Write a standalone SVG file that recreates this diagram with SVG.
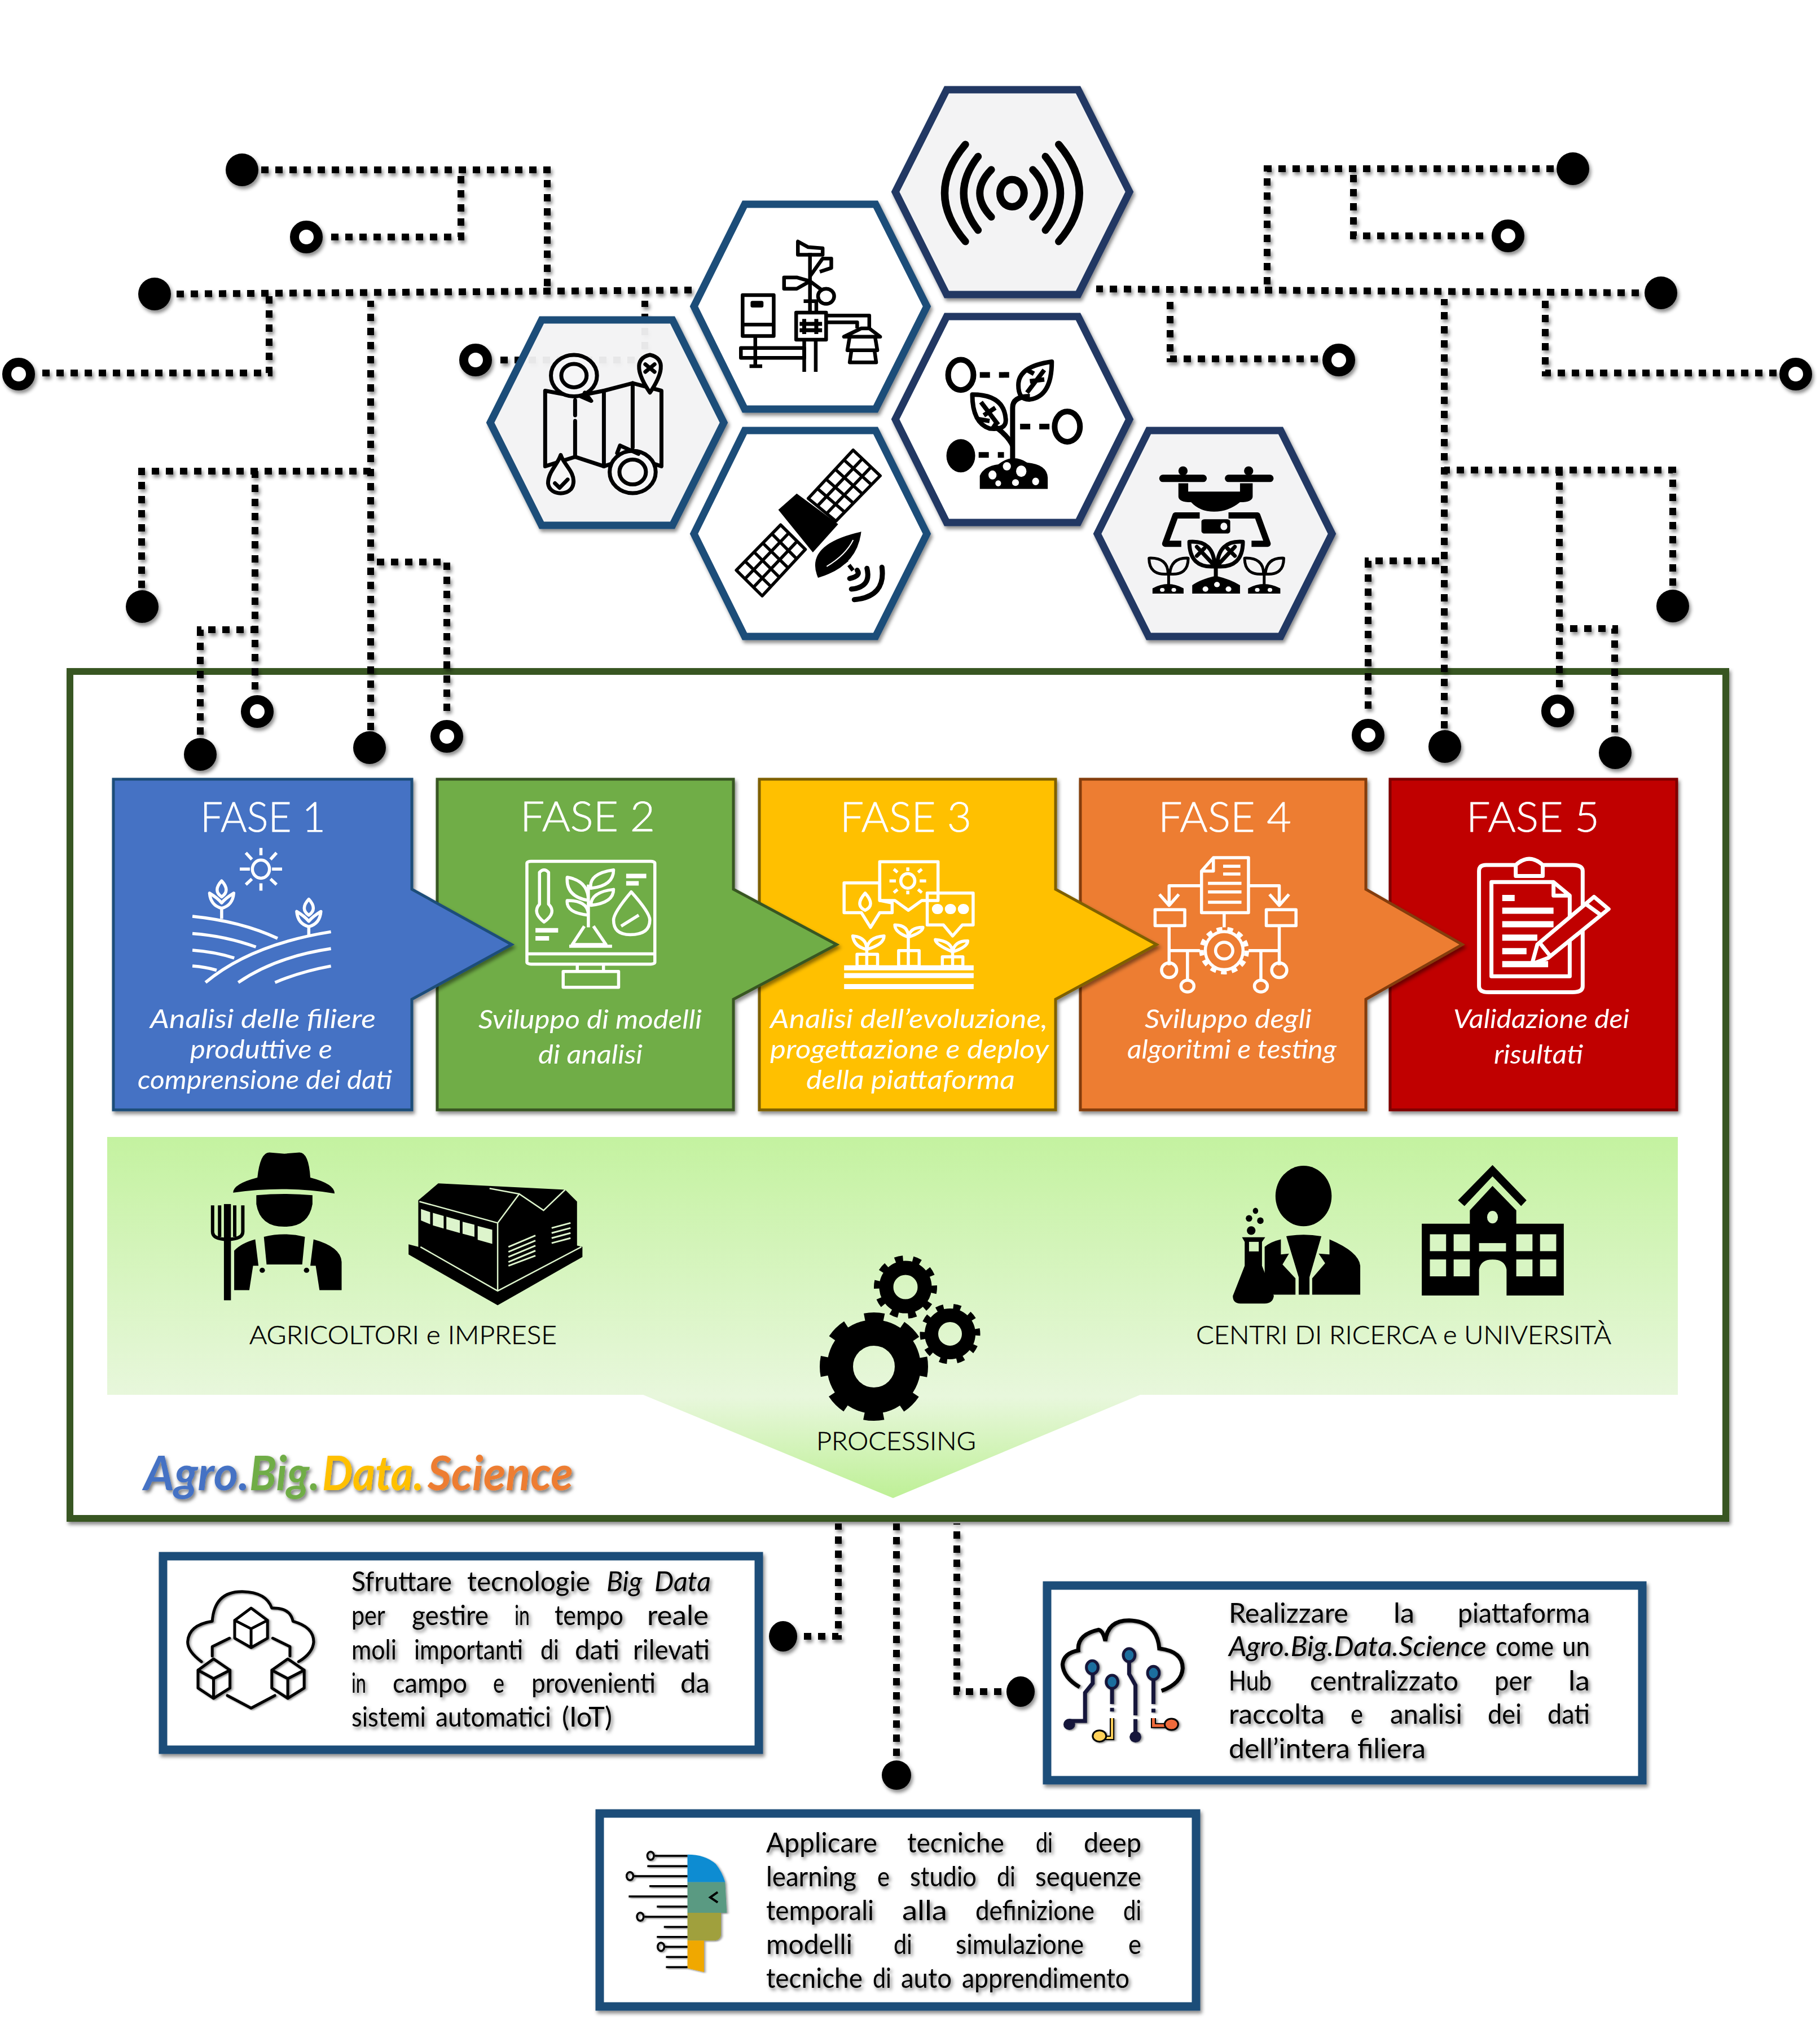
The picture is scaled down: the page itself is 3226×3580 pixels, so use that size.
<svg xmlns="http://www.w3.org/2000/svg" width="3226" height="3580" viewBox="0 0 3226 3580">
<style>
text{font-family:"Lato","Open Sans","Liberation Sans",sans-serif;font-weight:300;fill:#000}
.w{fill:#fff}.ti{font-size:72px;stroke:#fff;stroke-width:.8}.de{font-size:47px;font-style:italic;fill:#fff;font-weight:400}
.bt{font-size:48px;font-weight:400}.lb{font-size:45px;stroke:#000;stroke-width:.6}
.lg{font-size:84px;font-style:italic;font-weight:700}
.dash{fill:none;stroke:#000;stroke-width:12;stroke-dasharray:13 12}
.ring{fill:#fff;stroke:#000;stroke-width:16}
.dot{fill:#000}
.hex{stroke-width:13;stroke-linejoin:miter}
.hb{stroke:#1F4E79}.hn{stroke:#203864}
.fa{fill-opacity:.92;fill:#F6F6F7}.wh{fill:#fff}
.box{fill:#fff;stroke:#1F4E79;stroke-width:15}
.ic *{vector-effect:non-scaling-stroke}
.ln{fill:none;stroke:#000;stroke-width:6;stroke-linecap:round;stroke-linejoin:round}
.wl{fill:none;stroke:#fff;stroke-width:5.5;stroke-linejoin:round}
.fill{fill:#000}
</style>
<defs>
<filter id="sh" x="-10%" y="-10%" width="120%" height="120%"><feDropShadow dx="3" dy="5" stdDeviation="3" flood-color="#000" flood-opacity=".45"/></filter>
<filter id="sh2" x="-10%" y="-20%" width="120%" height="150%"><feDropShadow dx="3" dy="4" stdDeviation="3" flood-color="#000" flood-opacity=".55"/></filter>
<linearGradient id="band" x1="0" y1="2015" x2="0" y2="2655" gradientUnits="userSpaceOnUse">
<stop offset="0" stop-color="#C4F2A0"/><stop offset=".72" stop-color="#E8F7DC"/><stop offset="1" stop-color="#BEF096"/>
</linearGradient>
</defs>
<rect width="3226" height="3580" fill="#fff"/>

<g id="frame"><rect x="124" y="1190" width="2935" height="1501" fill="#fff" stroke="#385723" stroke-width="12" filter="url(#sh)"/></g>
<g id="band-shape"><path d="M190,2015H2974V2472H2021L1583,2655L1140,2472H190Z" fill="url(#band)"/></g>

<g id="connectors" filter="url(#sh)">
<path class="dash" d="M463,301H970V517"/>
<path class="dash" d="M587,420H817V301"/>
<path class="dash" d="M313,521L1227,514"/>
<path class="dash" d="M75,661H477V521"/>
<path class="dash" d="M657,1294V533"/>
<path class="dash" d="M251,1042V835H657"/>
<path class="dash" d="M452,1222V835"/>
<path class="dash" d="M355,1302V1116H452"/>
<path class="dash" d="M792,1260V996H657"/>
<path class="dash" d="M887,638H1143V533"/>
<path class="dash" d="M2754,299H2246V512"/>
<path class="dash" d="M2629,418H2399V299"/>
<path class="dash" d="M2905,519L1943,512"/>
<path class="dash" d="M2336,636H2074V525"/>
<path class="dash" d="M2560,1291V530"/>
<path class="dash" d="M2965,1038V833H2560"/>
<path class="dash" d="M2764,1218V833"/>
<path class="dash" d="M2862,1298V1114H2764"/>
<path class="dash" d="M2425,1256V994H2560"/>
<path class="dash" d="M3149,661H2739V530"/>
<path class="dash" d="M1425,2900H1486V2700"/>
<path class="dash" d="M1589,3112V2700"/>
<path class="dash" d="M1775,2998H1696V2700"/>
<circle class="dot" cx="429" cy="301" r="29"/>
<circle class="ring" cx="543" cy="420" r="21"/>
<circle class="dot" cx="274" cy="521" r="29"/>
<circle class="ring" cx="33" cy="663" r="21"/>
<circle class="dot" cx="252" cy="1075" r="29"/>
<circle class="ring" cx="456" cy="1261" r="21"/>
<circle class="dot" cx="355" cy="1337" r="29"/>
<circle class="dot" cx="655" cy="1325" r="29"/>
<circle class="ring" cx="792" cy="1305" r="21"/>
<circle class="ring" cx="843" cy="638" r="21"/>
<circle class="dot" cx="2788" cy="299" r="29"/>
<circle class="ring" cx="2673" cy="418" r="21"/>
<circle class="dot" cx="2944" cy="519" r="29"/>
<circle class="ring" cx="2373" cy="638" r="21"/>
<circle class="ring" cx="3183" cy="663" r="21"/>
<circle class="dot" cx="2965" cy="1074" r="29"/>
<circle class="ring" cx="2761" cy="1260" r="21"/>
<circle class="dot" cx="2863" cy="1334" r="29"/>
<circle class="ring" cx="2425" cy="1303" r="21"/>
<circle class="dot" cx="2561" cy="1323" r="29"/>
<ellipse class="dot" cx="1388" cy="2900" rx="25" ry="27"/>
<circle class="dot" cx="1589" cy="3146" r="26"/>
<ellipse class="dot" cx="1809" cy="2998" rx="25" ry="27"/>
</g>

<g id="hex-map" filter="url(#sh)"><path class="hex hb fa" d="M869,749L960,567H1192L1283,749L1192,931H960Z"/></g>
<g id="hex-weather" filter="url(#sh)"><path class="hex hb wh" d="M1230,543L1320,362H1552L1643,543L1552,725H1320Z"/></g>
<g id="hex-satellite" filter="url(#sh)"><path class="hex hb wh" d="M1230,946L1320,763H1552L1643,946L1552,1128H1320Z"/></g>
<g id="hex-sensor" filter="url(#sh)"><path class="hex hn fa" d="M1587,340L1678,159H1911L2002,340L1911,522H1678Z"/></g>
<g id="hex-plant" filter="url(#sh)"><path class="hex hn wh" d="M1587,743L1678,561H1911L2002,743L1911,926H1678Z"/></g>
<g id="hex-drone" filter="url(#sh)"><path class="hex hn fa" d="M1945,946L2036,763H2270L2361,946L2270,1128H2036Z"/></g>

<g id="icons-hex" class="ic" transform="translate(800,120) scale(1.0204,0.6696)">
<g class="ln" style="stroke-width:13">
<ellipse cx="974" cy="332" rx="21" ry="36"/>
<path d="M938,270Q898,332 938,395M915,235Q865,332 915,430M893,203Q821,332 893,460M1010,270Q1050,332 1010,395M1032,235Q1084,332 1032,430M1055,203Q1127,332 1055,460"/>
</g>
<g class="ln" style="stroke-width:6.5;stroke-linecap:butt">
<rect x="506" y="602" width="54" height="108"/><path d="M506,680H560M528,710V790M518,790H540"/>
<rect x="523" y="622" width="16" height="8" class="fill"/>
<rect x="503" y="742" width="110" height="26"/>
<rect x="599" y="648" width="52" height="72"/>
<path d="M613,665V705M634,665V705M605,678H644M605,695H644" style="stroke-width:7"/>
<path d="M613,720V805M633,720V805M623,648V490M612,618H634V648"/>
<path d="M602,460V495H645V478L620,475L602,460Z"/>
<path d="M623,552L645,505H660V530L640,540"/><ellipse cx="651" cy="605" rx="14" ry="20"/><path d="M623,565L645,590M623,565L600,555H578V585H600Z"/>
<path d="M651,656H726V690M651,674H705V690"/>
<path d="M712,690L682,712L745,712L726,690ZM692,712L688,748H740L736,712M695,748L692,780H738L735,748"/>
</g>
<g class="ln" style="stroke-width:7">
<path d="M163,855V1055L215,1030L265,1055L315,1030L365,1055V855L315,835L265,855L215,870Z"/>
<path d="M265,855V1055M315,835V1005M215,880V920M215,935V1030"/>
<ellipse cx="213" cy="815" rx="40" ry="55" fill="#F6F6F7"/><ellipse cx="213" cy="815" rx="22" ry="31"/><path d="M232,860L243,882L225,870"/>
<ellipse cx="315" cy="1070" rx="40" ry="56" fill="#F6F6F7"/><ellipse cx="315" cy="1070" rx="23" ry="33"/><path d="M288,1020L293,1000L325,1022"/>
<path d="M345,760C315,770 325,815 345,860C365,815 375,770 345,760Z" fill="#F6F6F7"/><path d="M337,785L353,805M353,785L337,805"/>
<path d="M190,1025C195,1050 215,1070 212,1100C210,1135 170,1135 168,1100C168,1070 185,1050 190,1025Z" fill="#F6F6F7"/><path d="M180,1100L188,1112L202,1090"/>
</g>
<path class="fill" d="M568,1170L600,1127L672,1208L628,1283Z"/>
<g class="ln" style="stroke-width:5.5;stroke-linecap:butt">
<path d="M620,1140L698,1012L745,1080L668,1200ZM636,1160L714,1035M652,1180L729,1057M636,1114L683,1176M651,1089L698,1152M667,1063L714,1128M682,1038L730,1104"/>
<path d="M572,1210L495,1330L540,1398L615,1275ZM586,1232L510,1353M601,1253L525,1375M557,1234L600,1300M541,1258L585,1324M526,1282L570,1349M510,1306L555,1373"/>
</g>
<path class="fill" d="M637,1350Q612,1262 712,1228Q705,1320 637,1350Z"/>
<path d="M652,1320Q685,1290 698,1250" style="fill:none;stroke:#fff;stroke-width:2"/>
<path d="M680,1295L700,1335" style="stroke:#000;stroke-width:7;stroke-dasharray:12 6;fill:none"/>
<g class="ln" style="stroke-width:9"><path d="M692,1352Q712,1345 705,1330M695,1380Q730,1375 722,1325M700,1408Q755,1400 748,1322"/></g>
<g class="ln" style="stroke-width:10;stroke-linecap:butt">
<ellipse cx="885" cy="813" rx="22" ry="40"/>
<ellipse cx="1070" cy="950" rx="22" ry="40"/>
<path d="M918,813H975" style="stroke-dasharray:18 16"/>
<path d="M988,950H1045" style="stroke-dasharray:18 16"/>
<path d="M916,1025H960" style="stroke-dasharray:18 16"/>
<path d="M975,1040V900Q975,870 1005,870" style="stroke-width:9"/>
<path d="M975,1000Q965,970 940,945" style="stroke-width:9"/>
<path d="M1043,778Q985,790 985,840Q985,880 1005,878Q1043,870 1043,778ZM1000,860L1030,800M1005,830L1030,825M1012,810L1000,800" style="stroke-width:8"/>
<path d="M905,865Q960,865 963,930Q965,960 935,955Q905,940 905,865ZM920,885L950,945M925,920L945,900M935,935L915,930" style="stroke-width:8"/>
</g>
<ellipse class="fill" cx="885" cy="1027" rx="25" ry="44"/>
<path class="fill" d="M918,1115V1080Q925,1055 950,1050Q975,1020 1000,1045Q1035,1050 1036,1085V1115Z"/>
<g fill="#fff"><ellipse cx="940" cy="1078" rx="7" ry="12"/><ellipse cx="965" cy="1055" rx="7" ry="11"/><ellipse cx="990" cy="1068" rx="9" ry="15"/><ellipse cx="980" cy="1098" rx="6" ry="9"/><ellipse cx="1015" cy="1095" rx="6" ry="10"/><ellipse cx="950" cy="1100" rx="5" ry="8"/></g>
<g class="ln" style="stroke-width:13"><path d="M1236,1087H1306M1350,1087H1422"/></g>
<ellipse class="fill" cx="1271" cy="1067" rx="8" ry="12"/><ellipse class="fill" cx="1385" cy="1067" rx="8" ry="12"/>
<path class="fill" d="M1263,1100H1280V1122H1370V1100H1392V1135Q1392,1150 1370,1150Q1350,1175 1325,1175Q1300,1175 1285,1150Q1263,1150 1263,1135Z"/>
<path class="ln" style="stroke-width:11;stroke-linecap:butt" d="M1300,1185H1258L1240,1260H1268M1350,1185H1400L1418,1260H1390"/>
<rect class="fill" x="1303" y="1195" width="50" height="38" rx="6"/><ellipse cx="1342" cy="1214" rx="6" ry="10" fill="#F6F6F7"/>
<g class="ln" style="stroke-width:7">
<path d="M1326,1320Q1282,1325 1282,1255Q1325,1250 1326,1320ZM1330,1320Q1375,1325 1375,1255Q1332,1250 1330,1320ZM1295,1268L1322,1312M1361,1268L1334,1312M1295,1292L1308,1272M1361,1292L1348,1272M1328,1315V1350"/>
<path d="M1245,1340Q1212,1345 1212,1298Q1245,1296 1245,1340ZM1248,1340Q1280,1345 1280,1298Q1250,1296 1248,1340ZM1246,1340V1370M1411,1340Q1378,1345 1378,1298Q1411,1296 1411,1340ZM1414,1340Q1446,1345 1446,1298Q1416,1296 1414,1340ZM1412,1340V1370" style="stroke-width:5"/>
</g>
<path class="fill" d="M1287,1392V1370Q1300,1355 1328,1345Q1355,1355 1370,1370V1392Z"/>
<path class="fill" d="M1218,1392V1378Q1245,1355 1272,1378V1392ZM1384,1392V1378Q1411,1355 1440,1378V1392Z"/>
<g fill="#fff"><ellipse cx="1310" cy="1380" rx="5" ry="7"/><ellipse cx="1330" cy="1368" rx="5" ry="7"/><ellipse cx="1350" cy="1380" rx="5" ry="7"/><ellipse cx="1235" cy="1382" rx="4" ry="5"/><ellipse cx="1255" cy="1382" rx="4" ry="5"/><ellipse cx="1400" cy="1382" rx="4" ry="5"/><ellipse cx="1422" cy="1382" rx="4" ry="5"/></g>
</g>

<g id="fase-5" filter="url(#sh)"><rect x="2464" y="1381" width="508" height="586" fill="#C00000" stroke="#7F0000" stroke-width="5"/></g>
<g id="fase-4" filter="url(#sh)"><path d="M1915,1381H2421V1576L2592,1674L2421,1771V1967H1915Z" fill="#ED7D31" stroke="#843C0C" stroke-width="5"/></g>
<g id="fase-3" filter="url(#sh)"><path d="M1346,1381H1871V1576L2050,1674L1871,1771V1967H1346Z" fill="#FFC000" stroke="#7F6000" stroke-width="5"/></g>
<g id="fase-2" filter="url(#sh)"><path d="M775,1381H1300V1576L1483,1674L1300,1771V1967H775Z" fill="#70AD47" stroke="#385723" stroke-width="5"/></g>
<g id="fase-1" filter="url(#sh)"><path d="M201,1381H730V1576L907,1674L730,1771V1967H201Z" fill="#4472C4" stroke="#1F4E79" stroke-width="5"/></g>

<g id="fase-icons-a" class="ic" transform="translate(150,1340) scale(.8929,.4337)">
<g class="wl">
<ellipse cx="350" cy="462" rx="17" ry="37"/>
<path d="M350,375V405M350,520V550M308,462H328M372,462H392M320,395L332,422M381,395L369,422M320,525L332,502M381,525L369,502"/>
<path d="M272,510Q290,550 272,575Q254,550 272,510ZM248,560Q250,610 272,622Q294,610 296,560Q280,580 272,600Q264,580 248,560ZM272,622V665"/>
<path d="M445,585Q463,625 445,650Q427,625 445,585ZM421,635Q423,685 445,697Q467,685 469,635Q453,655 445,675Q437,655 421,635ZM445,697V735"/>
<path d="M214,655Q310,675 383,745M214,725Q280,735 340,780M214,793Q260,800 297,825M214,858Q240,862 262,875M240,925Q330,770 489,718M305,925Q380,820 489,787M378,925Q430,880 489,858"/>
<rect x="878" y="430" width="254" height="420" rx="8"/><path d="M878,808H1132M978,850V880M1030,850V880"/><rect x="950" y="880" width="110" height="65"/>
<path d="M903,475Q912,455 921,475V605Q938,640 912,678Q888,640 903,605Z"/>
<path d="M1000,525V700M1000,590Q955,575 958,495Q1000,510 1000,590ZM1005,540Q1000,480 1050,465Q1050,530 1005,540ZM1000,650Q955,640 958,590Q1000,590 1000,650ZM1005,610Q1005,555 1050,545Q1050,600 1005,610Z"/>
<path d="M992,695L968,770H1035L1010,695M962,777H1047"/>
<path d="M1085,555Q1122,640 1122,670Q1122,730 1083,730Q1050,730 1050,670Q1050,640 1085,555ZM1065,695L1100,650"/>
<path d="M1075,490H1115M1075,520H1100M895,712H940M895,745H922" style="stroke-width:8"/>
</g>
</g>
<g id="fase-icons-b" class="ic" transform="translate(1500,1340) scale(.957,.4337)">
<g class="wl">
<path d="M-4,518H62V590L85,600V640H62L45,700L28,640H-4Z"/>
<path d="M62,432H170V590H140L115,630L90,590H62Z"/>
<ellipse cx="114" cy="510" rx="13" ry="30"/><path d="M114,455V470M114,550V565M92,510H80M148,510H136M95,475L88,462M133,475L140,462M95,545L88,558M133,545L140,558"/>
<path d="M150,560H235V690H215L197,735L180,690H150Z"/>
<path d="M35,560Q55,610 35,630Q15,610 35,560Z"/>
<path d="M168,625H170M192,625H194M216,625H218" style="stroke-width:18;stroke-linecap:round"/>
<path d="M-4,865H236M-4,897H236M-4,942H236" style="stroke-width:9"/>
<path d="M38,860V775M38,790Q15,780 12,735Q38,740 38,790M38,790Q70,770 70,735Q40,740 38,790"/><rect x="20" y="810" width="38" height="50"/>
<path d="M115,860V720M115,740Q90,720 90,690Q115,690 115,740M115,740Q142,720 142,700Q118,700 115,740"/><rect x="97" y="795" width="38" height="65"/>
<path d="M197,860V790M197,800Q165,770 165,750Q195,755 197,800M197,800Q225,780 225,755Q200,755 197,800"/><rect x="178" y="820" width="38" height="40"/>
<path d="M680,415H745V640H658V470ZM680,415V470H658M698,450H730M698,482H730M670,520H732M670,555H732M670,597H732"/>
<path d="M658,530H598V605M745,530H802V605M580,565L598,610L616,565M784,565L802,610L820,565"/>
<rect x="572" y="628" width="55" height="65"/><rect x="778" y="628" width="55" height="65"/>
<path d="M700,640V700M598,693V795H655M802,693V795H745M598,795V855M632,795V915M768,795V915M802,795V855"/>
<ellipse cx="700" cy="795" rx="35" ry="78"/><ellipse cx="700" cy="795" rx="16" ry="34"/>
<ellipse cx="700" cy="795" rx="42" ry="88" style="stroke-width:8;stroke-dasharray:10 9"/>
<ellipse cx="598" cy="875" rx="14" ry="30"/><ellipse cx="632" cy="940" rx="12" ry="24"/><ellipse cx="768" cy="940" rx="12" ry="24"/><ellipse cx="802" cy="875" rx="14" ry="30"/>
<path d="M1240,490V445H1185Q1172,445 1172,470V940Q1172,965 1190,965H1345Q1364,965 1364,940V470Q1364,445 1345,445H1290V490H1240ZM1240,445Q1265,395 1290,445" style="stroke-width:7"/>
<path d="M1195,515H1310L1340,570V900H1195ZM1310,515V570H1340" style="stroke-width:7"/>
<path d="M1215,580H1238M1215,632H1310M1215,687H1310M1215,742H1280M1215,797H1260M1215,850H1300" style="stroke-width:11"/>
<path d="M1385,575L1412,625L1300,825L1270,850L1280,770ZM1370,605L1398,650M1285,765L1305,820" style="fill:#C00000;stroke-width:7"/>
</g>
</g>

<g id="fase-text">
<text class="ti w" x="355" y="1474" textLength="222" lengthAdjust="spacingAndGlyphs">FASE 1</text>
<text class="ti w" x="922" y="1473" textLength="239" lengthAdjust="spacingAndGlyphs">FASE 2</text>
<text class="ti w" x="1489" y="1474" textLength="233" lengthAdjust="spacingAndGlyphs">FASE 3</text>
<text class="ti w" x="2053" y="1474" textLength="236" lengthAdjust="spacingAndGlyphs">FASE 4</text>
<text class="ti w" x="2599" y="1474" textLength="236" lengthAdjust="spacingAndGlyphs">FASE 5</text>
<text class="de" x="266" y="1822" textLength="400" lengthAdjust="spacingAndGlyphs">Analisi delle filiere</text>
<text class="de" x="337" y="1876" textLength="252" lengthAdjust="spacingAndGlyphs">produttive e</text>
<text class="de" x="244" y="1930" textLength="451" lengthAdjust="spacingAndGlyphs">comprensione dei dati</text>
<text class="de" x="848" y="1823" textLength="396" lengthAdjust="spacingAndGlyphs">Sviluppo di modelli</text>
<text class="de" x="954" y="1885" textLength="185" lengthAdjust="spacingAndGlyphs">di analisi</text>
<text class="de" x="1365" y="1822" textLength="492" lengthAdjust="spacingAndGlyphs">Analisi dell’evoluzione,</text>
<text class="de" x="1365" y="1876" textLength="494" lengthAdjust="spacingAndGlyphs">progettazione e deploy</text>
<text class="de" x="1429" y="1930" textLength="370" lengthAdjust="spacingAndGlyphs">della piattaforma</text>
<text class="de" x="2029" y="1822" textLength="296" lengthAdjust="spacingAndGlyphs">Sviluppo degli</text>
<text class="de" x="1998" y="1876" textLength="371" lengthAdjust="spacingAndGlyphs">algoritmi e testing</text>
<text class="de" x="2576" y="1822" textLength="312" lengthAdjust="spacingAndGlyphs">Validazione dei</text>
<text class="de" x="2648" y="1885" textLength="158" lengthAdjust="spacingAndGlyphs">risultati</text>
</g>

<g id="farmers" class="ic" transform="translate(150,2000) scale(.957,.4464)">
<path class="fill" d="M275,255Q275,220 320,195Q325,95 342,95L370,100L398,95Q415,95 418,195Q463,220 463,258Q370,225 275,255Z"/>
<path class="fill" d="M318,265Q370,255 422,265V300Q415,390 370,390Q325,390 318,300Z"/>
<path class="fill" d="M277,642V485Q290,455 316,440L322,545L312,545L305,642Z"/>
<path class="fill" d="M332,430Q370,410 408,430L403,540H337Z"/>
<path class="fill" d="M424,440Q475,470 476,530V642H435L428,545L418,545Z"/>
<ellipse class="fill" cx="329" cy="563" rx="5" ry="10"/><ellipse class="fill" cx="411" cy="563" rx="5" ry="10"/>
<rect class="fill" x="258" y="300" width="13" height="382"/>
<path d="M237,305V410Q237,440 264,440Q293,440 293,410V305M250,305V430M278,305V430" style="fill:none;stroke:#000;stroke-width:6"/>
<path class="fill" d="M655,218L890,243L912,290V465L922,470V510L765,702L600,500V460L618,470V285Z"/>
<path d="M620,290L765,375V645M765,375L805,260L850,325L890,243M750,238L805,260M622,470L765,645L920,470" style="fill:none;stroke:#DDF4CC;stroke-width:2.5"/>
<path fill="#DDF4CC" d="M623,320L640,332V380L623,365ZM645,335L665,347V397L645,385ZM670,350L695,365V415L670,400ZM700,370L722,382V430L700,418ZM728,387L755,402V458L728,442Z"/>
<g style="fill:none;stroke:#DDF4CC;stroke-width:3"><path d="M785,470L835,425M785,490L835,445M785,510L835,465M785,530L835,485M785,545L835,505M865,395L900,375M865,415L900,395M865,435L900,415M865,455L900,435"/></g>
</g>

<text id="lbl-farmers" class="lb" x="442" y="2382" textLength="545" lengthAdjust="spacingAndGlyphs">AGRICOLTORI e IMPRESE</text>

<g id="gears">
<circle cx="1549" cy="2422" r="60" fill="none" stroke="#000" stroke-width="46"/>
<circle cx="1549" cy="2422" r="87" fill="none" stroke="#000" stroke-width="18" stroke-dasharray="34 34.33" stroke-dashoffset="17"/>
<circle cx="1605" cy="2281" r="34" fill="none" stroke="#000" stroke-width="25"/>
<circle cx="1605" cy="2281" r="50" fill="none" stroke="#000" stroke-width="12" stroke-dasharray="14 17.4" stroke-dashoffset="3"/>
<circle cx="1684" cy="2364" r="33" fill="none" stroke="#000" stroke-width="24"/>
<circle cx="1684" cy="2364" r="48" fill="none" stroke="#000" stroke-width="11" stroke-dasharray="13 17.2" stroke-dashoffset="10"/>
</g>
<text id="lbl-processing" class="lb" x="1447" y="2570" textLength="283" lengthAdjust="spacingAndGlyphs">PROCESSING</text>

<g id="research" class="ic" transform="translate(1500,2000) scale(.957,.4464)">
<ellipse class="fill" cx="847" cy="268" rx="52" ry="120"/>
<path class="fill" d="M775,660V470Q785,450 805,440V500L820,497L808,540L832,595V660Z"/>
<path class="fill" d="M815,428Q847,415 880,428L858,590V660H838V590Z"/>
<path class="fill" d="M895,440Q950,490 952,545V660H863V595L887,535L875,497L895,500Z"/>
<path class="fill" d="M733,432H776L770,450V545L792,665Q790,695 775,695H730Q716,695 716,665L738,545V450Z"/>
<rect x="746" y="450" width="18" height="38" fill="#D5F3BF"/>
<ellipse class="fill" cx="750" cy="405" rx="8" ry="17"/><ellipse class="fill" cx="746" cy="357" rx="6" ry="13"/><ellipse class="fill" cx="767" cy="366" rx="6" ry="13"/><ellipse class="fill" cx="758" cy="327" rx="5" ry="12"/>
<path class="fill" d="M1066,378H1155V325L1197,228L1241,325V378H1329V663H1223V560Q1220,520 1197,520Q1175,520 1172,560V663H1066Z"/>
<path class="fill" d="M1133,285L1197,145L1260,285L1250,308L1197,190L1145,308Z"/>
<g fill="#D8F5C3"><rect x="1081" y="420" width="30" height="67"/><rect x="1125" y="420" width="30" height="67"/><rect x="1241" y="420" width="30" height="67"/><rect x="1285" y="420" width="30" height="67"/><rect x="1172" y="455" width="50" height="33"/><rect x="1081" y="520" width="30" height="67"/><rect x="1125" y="520" width="30" height="67"/><rect x="1241" y="520" width="30" height="67"/><rect x="1285" y="520" width="30" height="67"/><ellipse cx="1197" cy="352" rx="10" ry="25"/></g>
</g>
<text id="lbl-research" class="lb" x="2120" y="2382" textLength="736" lengthAdjust="spacingAndGlyphs">CENTRI DI RICERCA e UNIVERSITÀ</text>

<g id="logo" filter="url(#sh2)">
<text class="lg" x="255" y="2641" textLength="187" lengthAdjust="spacingAndGlyphs" style="fill:#4472C4">Agro.</text>
<text class="lg" x="442" y="2641" textLength="125" lengthAdjust="spacingAndGlyphs" style="fill:#70AD47">Big.</text>
<text class="lg" x="571" y="2641" textLength="180" lengthAdjust="spacingAndGlyphs" style="fill:#FFC000">Data.</text>
<text class="lg" x="758" y="2641" textLength="258" lengthAdjust="spacingAndGlyphs" style="fill:#ED7D31">Science</text>
</g>

<g id="box-bigdata">
<rect class="box" x="289" y="2758" width="1056" height="343" filter="url(#sh)"/>
<g class="ic" transform="translate(250,2680) scale(.765,.3333)" filter="url(#sh)">
<g class="ln" style="stroke-width:5">
<path d="M140,795Q108,740 108,690Q110,600 165,580Q170,420 235,422Q290,425 303,510Q345,505 352,580Q400,610 400,690Q398,750 365,795"/>
<path d="M255,510L217,575V670L255,720L293,670V575ZM217,575L255,620L293,575M255,620V720" style="fill:#fff"/>
<path d="M168,780L132,840V935L168,990L206,935V840ZM132,840L168,885L206,840M168,885V990"/>
<path d="M340,780L303,840V935L340,990L378,935V840ZM303,840L340,885L378,840M340,885V990"/>
<path d="M200,975L255,1042L310,975M205,670L165,715V765M305,670L345,715V765"/>
</g>
</g>
<text class="bt" y="2820" filter="url(#sh2)"><tspan x="623" textLength="178" lengthAdjust="spacingAndGlyphs">Sfruttare</tspan> <tspan x="828" textLength="218" lengthAdjust="spacingAndGlyphs">tecnologie</tspan> <tspan x="1075" textLength="63" lengthAdjust="spacingAndGlyphs" style="font-style:italic">Big</tspan> <tspan x="1160" textLength="100" lengthAdjust="spacingAndGlyphs" style="font-style:italic">Data</tspan></text>
<text class="bt" y="2880" filter="url(#sh2)"><tspan x="623" textLength="59" lengthAdjust="spacingAndGlyphs">per</tspan> <tspan x="730" textLength="136" lengthAdjust="spacingAndGlyphs">gestire</tspan> <tspan x="912" textLength="27" lengthAdjust="spacingAndGlyphs">in</tspan> <tspan x="983" textLength="122" lengthAdjust="spacingAndGlyphs">tempo</tspan> <tspan x="1147" textLength="109" lengthAdjust="spacingAndGlyphs">reale</tspan></text>
<text class="bt" y="2941" filter="url(#sh2)"><tspan x="623" textLength="80" lengthAdjust="spacingAndGlyphs">moli</tspan> <tspan x="734" textLength="193" lengthAdjust="spacingAndGlyphs">importanti</tspan> <tspan x="958" textLength="33" lengthAdjust="spacingAndGlyphs">di</tspan> <tspan x="1019" textLength="79" lengthAdjust="spacingAndGlyphs">dati</tspan> <tspan x="1122" textLength="136" lengthAdjust="spacingAndGlyphs">rilevati</tspan></text>
<text class="bt" y="3000" filter="url(#sh2)"><tspan x="623" textLength="26" lengthAdjust="spacingAndGlyphs">in</tspan> <tspan x="696" textLength="132" lengthAdjust="spacingAndGlyphs">campo</tspan> <tspan x="874" textLength="20" lengthAdjust="spacingAndGlyphs">e</tspan> <tspan x="942" textLength="220" lengthAdjust="spacingAndGlyphs">provenienti</tspan> <tspan x="1206" textLength="52" lengthAdjust="spacingAndGlyphs">da</tspan></text>
<text class="bt" y="3060" filter="url(#sh2)"><tspan x="623" textLength="132" lengthAdjust="spacingAndGlyphs">sistemi</tspan> <tspan x="772" textLength="205" lengthAdjust="spacingAndGlyphs">automatici</tspan> <tspan x="996" textLength="89" lengthAdjust="spacingAndGlyphs">(IoT)</tspan></text>
</g>

<g id="box-hub">
<rect class="box" x="1856" y="2810" width="1055" height="345" filter="url(#sh)"/>
<g class="ic" transform="translate(1700,2700) scale(.7974,.3333)" filter="url(#sh)">
<path d="M268,870Q232,820 230,750Q232,690 265,675Q262,590 310,565Q320,570 325,625Q330,515 378,515Q440,520 445,665Q497,680 497,770Q495,850 450,890" style="fill:none;stroke:#000;stroke-width:7"/>
<g style="fill:none;stroke:#15183A;stroke-width:7">
<path d="M297,800V850L280,900V1050H245M340,880V960M340,980V1000M378,740V800L392,860V1020M392,1040V1120M432,830V960M432,985V1005"/>
</g>
<g style="fill:#1F6E9E;stroke:#15183A;stroke-width:5"><ellipse cx="296" cy="765" rx="13" ry="35"/><ellipse cx="340" cy="842" rx="13" ry="35"/><ellipse cx="378" cy="700" rx="13" ry="35"/><ellipse cx="432" cy="795" rx="13" ry="35"/></g>
<ellipse cx="245" cy="1068" rx="13" ry="30" fill="#15183A"/>
<ellipse cx="392" cy="1135" rx="13" ry="30" fill="#15183A"/>
<path d="M340,1035V1140H325" style="fill:none;stroke:#000;stroke-width:8"/><path d="M340,1035V1140H325" style="fill:none;stroke:#FFD25A;stroke-width:4"/>
<ellipse cx="312" cy="1130" rx="15" ry="30" fill="#FFD25A" stroke="#000" stroke-width="3"/>
<path d="M432,1035V1075H470" style="fill:none;stroke:#000;stroke-width:9"/><path d="M432,1035V1075H470" style="fill:none;stroke:#EF6B3A;stroke-width:5"/>
<ellipse cx="472" cy="1068" rx="15" ry="30" fill="#EF6B3A" stroke="#000" stroke-width="3"/>
</g>
<text class="bt" y="2876" filter="url(#sh2)"><tspan x="2178" textLength="212" lengthAdjust="spacingAndGlyphs">Realizzare</tspan> <tspan x="2470" textLength="37" lengthAdjust="spacingAndGlyphs">la</tspan> <tspan x="2584" textLength="234" lengthAdjust="spacingAndGlyphs">piattaforma</tspan></text>
<text class="bt" y="2935" filter="url(#sh2)"><tspan x="2178" textLength="457" lengthAdjust="spacingAndGlyphs" style="font-style:italic">Agro.Big.Data.Science</tspan> <tspan x="2651" textLength="103" lengthAdjust="spacingAndGlyphs">come</tspan> <tspan x="2769" textLength="49" lengthAdjust="spacingAndGlyphs">un</tspan></text>
<text class="bt" y="2996" filter="url(#sh2)"><tspan x="2178" textLength="76" lengthAdjust="spacingAndGlyphs">Hub</tspan> <tspan x="2322" textLength="263" lengthAdjust="spacingAndGlyphs">centralizzato</tspan> <tspan x="2649" textLength="65" lengthAdjust="spacingAndGlyphs">per</tspan> <tspan x="2780" textLength="38" lengthAdjust="spacingAndGlyphs">la</tspan></text>
<text class="bt" y="3055" filter="url(#sh2)"><tspan x="2178" textLength="170" lengthAdjust="spacingAndGlyphs">raccolta</tspan> <tspan x="2394" textLength="22" lengthAdjust="spacingAndGlyphs">e</tspan> <tspan x="2464" textLength="128" lengthAdjust="spacingAndGlyphs">analisi</tspan> <tspan x="2637" textLength="60" lengthAdjust="spacingAndGlyphs">dei</tspan> <tspan x="2743" textLength="75" lengthAdjust="spacingAndGlyphs">dati</tspan></text>
<text class="bt" y="3116" filter="url(#sh2)"><tspan x="2178" textLength="349" lengthAdjust="spacingAndGlyphs">dell’intera filiera</tspan></text>
</g>

<g id="box-deep">
<rect class="box" x="1063" y="3214" width="1057" height="342" filter="url(#sh)"/>
<g class="ic" transform="translate(1030,3190) scale(.7337,.3333)" filter="url(#sh)">
<path d="M257,290Q300,290 325,340Q340,380 348,437H257Z" fill="#0E8CD2"/>
<path d="M257,437H348L352,600H257Z" fill="#5A9A82"/>
<path d="M257,600H338V720Q335,748 320,748H257Z" fill="#A0A03C"/>
<path d="M257,748H297V915L257,895Z" fill="#F0A800"/>
<path d="M330,490L312,518L330,545" style="fill:none;stroke:#000;stroke-width:4"/>
<g style="fill:none;stroke:#000;stroke-width:3.5">
<path d="M178,297H257M160,352H257M128,405H257M165,458H257M115,513H257M183,567H257M153,621H257M200,675H257M183,728H257M203,781H257M205,835H257M205,889H257"/>
<ellipse cx="168" cy="297" rx="8" ry="22"/><ellipse cx="118" cy="405" rx="8" ry="22"/><ellipse cx="143" cy="621" rx="8" ry="22"/><ellipse cx="193" cy="781" rx="8" ry="22"/>
</g>
</g>
<text class="bt" y="3283" filter="url(#sh2)"><tspan x="1358" textLength="197" lengthAdjust="spacingAndGlyphs">Applicare</tspan> <tspan x="1608" textLength="172" lengthAdjust="spacingAndGlyphs">tecniche</tspan> <tspan x="1836" textLength="30" lengthAdjust="spacingAndGlyphs">di</tspan> <tspan x="1921" textLength="102" lengthAdjust="spacingAndGlyphs">deep</tspan></text>
<text class="bt" y="3343" filter="url(#sh2)"><tspan x="1358" textLength="160" lengthAdjust="spacingAndGlyphs">learning</tspan> <tspan x="1555" textLength="22" lengthAdjust="spacingAndGlyphs">e</tspan> <tspan x="1613" textLength="118" lengthAdjust="spacingAndGlyphs">studio</tspan> <tspan x="1767" textLength="33" lengthAdjust="spacingAndGlyphs">di</tspan> <tspan x="1835" textLength="188" lengthAdjust="spacingAndGlyphs">sequenze</tspan></text>
<text class="bt" y="3403" filter="url(#sh2)"><tspan x="1358" textLength="191" lengthAdjust="spacingAndGlyphs">temporali</tspan> <tspan x="1599" textLength="80" lengthAdjust="spacingAndGlyphs">alla</tspan> <tspan x="1729" textLength="211" lengthAdjust="spacingAndGlyphs">definizione</tspan> <tspan x="1991" textLength="32" lengthAdjust="spacingAndGlyphs">di</tspan></text>
<text class="bt" y="3463" filter="url(#sh2)"><tspan x="1358" textLength="153" lengthAdjust="spacingAndGlyphs">modelli</tspan> <tspan x="1584" textLength="33" lengthAdjust="spacingAndGlyphs">di</tspan> <tspan x="1694" textLength="227" lengthAdjust="spacingAndGlyphs">simulazione</tspan> <tspan x="2000" textLength="23" lengthAdjust="spacingAndGlyphs">e</tspan></text>
<text class="bt" y="3523" filter="url(#sh2)"><tspan x="1358" textLength="171" lengthAdjust="spacingAndGlyphs">tecniche</tspan> <tspan x="1547" textLength="33" lengthAdjust="spacingAndGlyphs">di</tspan> <tspan x="1597" textLength="90" lengthAdjust="spacingAndGlyphs">auto</tspan> <tspan x="1705" textLength="297" lengthAdjust="spacingAndGlyphs">apprendimento</tspan></text>
</g>
</svg>
